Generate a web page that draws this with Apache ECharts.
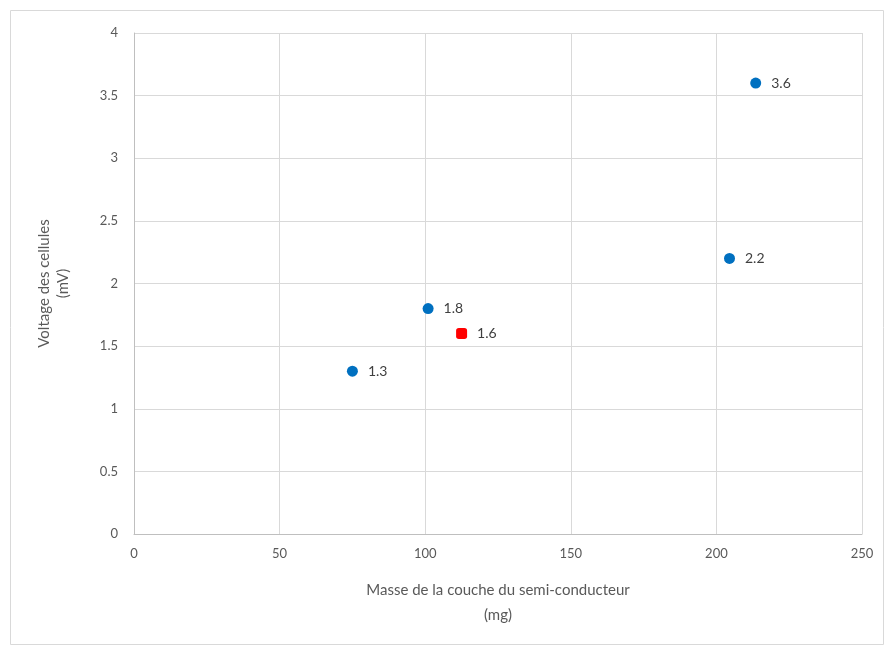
<!DOCTYPE html>
<html><head><meta charset="utf-8">
<script src="https://cdn.jsdelivr.net/npm/echarts@6/dist/echarts.min.js"></script>
<style>html,body{margin:0;padding:0;background:#fff}#c{width:891px;height:649px}</style>
</head><body><div id="c"></div>
<script>
const blueX = [75, 101, 204.5, 213.5];
const blueY = [1.3, 1.8, 2.2, 3.6];
const redX = [112.5];
const redY = [1.6];
const xTitle = 'Masse de la couche du semi-conducteur\n(mg)';
const yTitle = 'Voltage des cellules\n(mV)';

const font = 'Lato, "Open Sans", sans-serif';
const chart = echarts.init(document.getElementById('c'));
const lbl = {show:true, position:'right', distance:10, color:'#404040', fontFamily:font, fontSize:14, formatter:p=>p.value[1]};
chart.setOption({
  animation:false,
  graphic:[{type:'rect', shape:{x:10.5,y:10.5,width:873,height:634}, style:{fill:'none', stroke:'#d9d9d9', lineWidth:1}, silent:true}],
  grid:{left:134, right:29, top:33, bottom:115},
  xAxis:{type:'value', min:0, max:250, interval:50,
    name:xTitle, nameLocation:'middle', nameGap:44,
    nameTextStyle:{color:'#595959', fontFamily:font, fontSize:15, lineHeight:25},
    axisLine:{show:true, lineStyle:{color:'#bfbfbf', width:1}}, axisTick:{show:false},
    axisLabel:{color:'#595959', fontFamily:font, fontSize:13, margin:13},
    splitLine:{show:true, lineStyle:{color:'#d9d9d9'}}},
  yAxis:{type:'value', min:0, max:4, interval:0.5,
    name:yTitle, nameLocation:'middle', nameGap:61,
    nameTextStyle:{color:'#595959', fontFamily:font, fontSize:15, lineHeight:19},
    axisLine:{show:true, lineStyle:{color:'#bfbfbf', width:1}}, axisTick:{show:false},
    axisLabel:{color:'#595959', fontFamily:font, fontSize:13, margin:16},
    splitLine:{show:true, lineStyle:{color:'#d9d9d9'}}},
  series:[
    {type:'scatter', symbol:'circle', symbolSize:11, itemStyle:{color:'#0070C0', opacity:1}, label:lbl,
     data:blueX.map((x,i)=>[x, blueY[i]])},
    {type:'scatter', symbol:'roundRect', symbolSize:11, itemStyle:{color:'#FF0000', opacity:1}, label:lbl,
     data:redX.map((x,i)=>[x, redY[i]])}
  ]
});
</script></body></html>
